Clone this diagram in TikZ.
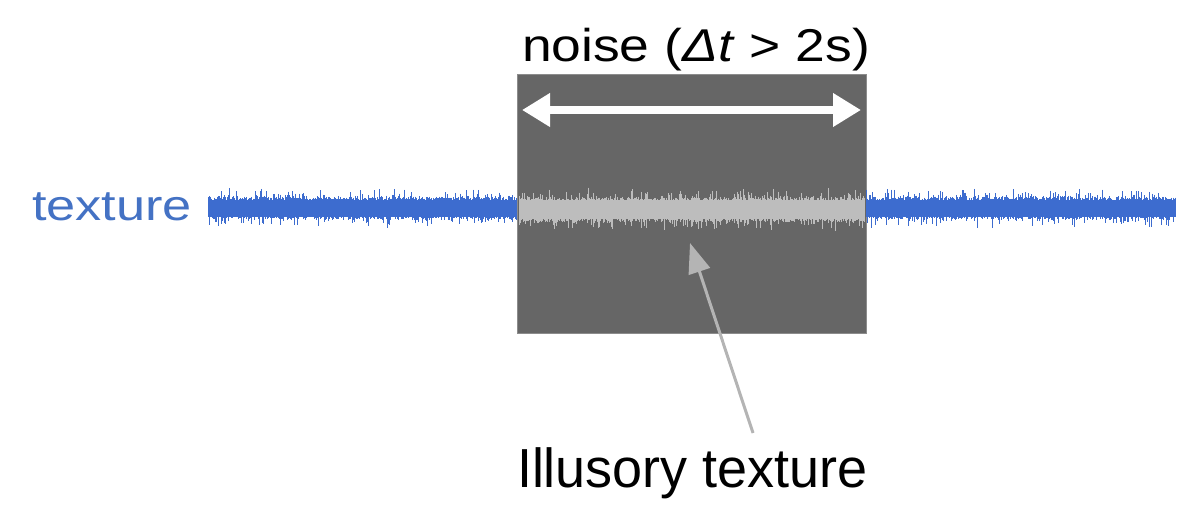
\documentclass[tikz,border=0pt]{standalone}
\usepackage{fontspec}
\setmainfont{Liberation Sans}
\usetikzlibrary{arrows.meta}
\definecolor{texblue}{HTML}{4472C4}
\definecolor{waveblue}{HTML}{3D6CCF}
\definecolor{boxgray}{HTML}{666666}
\definecolor{bandgray}{HTML}{BDBDBD}
\definecolor{pointgray}{HTML}{B4B4B4}
\tikzset{
  wave/.style={line width=1pt},
  lbl/.style={inner sep=0pt, outer sep=0pt, anchor=base west},
}
\begin{document}
\begin{tikzpicture}[x=1pt,y=-1pt]
\useasboundingbox (0,0) rectangle (1200,508);
% noise box
\node[draw=black!45, line width=0.8pt, fill=boxgray, minimum width=349pt, minimum height=259pt, inner sep=0pt, anchor=north west] (box) at (517,74) {};
% waveforms
\pgfmathsetseed{7}
\fill[waveblue] (208,199.5) rectangle (517,216.5);
\foreach \x in {208,209,...,516} {
  \pgfmathsetmacro\u{7.5+4*rnd+9*rnd^6}
  \pgfmathsetmacro\d{7.5+4*rnd+9*rnd^6}
  \draw[wave, waveblue] (\x,208-\u) -- (\x,208+\d);
}
\fill[waveblue] (866,199.5) rectangle (1175,216.5);
\foreach \x in {866,867,...,1175} {
  \pgfmathsetmacro\u{7.5+4*rnd+9*rnd^6}
  \pgfmathsetmacro\d{7.5+4*rnd+9*rnd^6}
  \draw[wave, waveblue] (\x,208-\u) -- (\x,208+\d);
}
\fill[bandgray] (519,200) rectangle (864,219);
\foreach \x in {519,520,...,864} {
  \pgfmathsetmacro\u{8.5+4*rnd+10*rnd^6}
  \pgfmathsetmacro\d{8.5+4*rnd+10*rnd^6}
  \draw[wave, bandgray] (\x,209.5-\u) -- (\x,209.5+\d);
}
% duration arrow
\coordinate (aL) at (522,110);
\coordinate (aR) at (861,110);
\draw[white, line width=8pt, {Triangle[length=28pt,width=32pt]}-{Triangle[length=28pt,width=32pt]}] (aL) -- (aR);
% texts
\node[lbl] (noise) at (522,62) {\resizebox{348pt}{\height}{\fontsize{46}{50}\selectfont noise (\textit{Δt} > 2s)}};
\node[lbl, text=texblue] (tex) at (32,220) {\resizebox{160pt}{\height}{\fontsize{43}{46}\selectfont texture}};
\node[lbl] (ill) at (517,487) {\resizebox{351pt}{\height}{\fontsize{55}{60}\selectfont Illusory texture}};
% pointer
\coordinate (tail) at (753,433);
\coordinate (tip) at (690,243);
\draw[pointgray, line width=3pt, -{Triangle[length=30pt,width=22pt]}] (tail) -- (tip);
\end{tikzpicture}
\end{document}
